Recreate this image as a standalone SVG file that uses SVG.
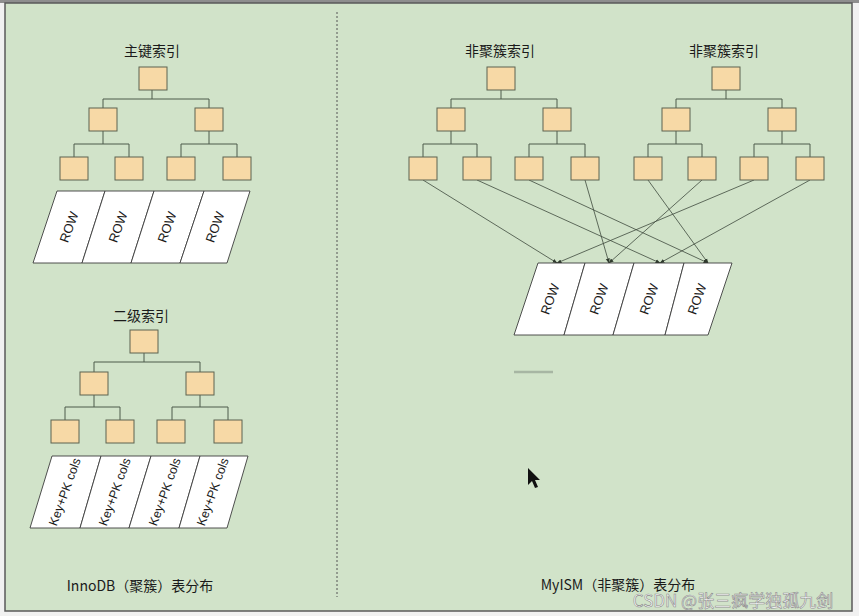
<svg xmlns="http://www.w3.org/2000/svg" width="859" height="616" viewBox="0 0 859 616">
<style>
.bx{fill:#f7d9a6;stroke:#5d6350;stroke-width:1}
.ln{fill:none;stroke:#4d5a4a;stroke-width:1}
.ar{fill:none;stroke:#3f4a3d;stroke-width:0.8}
.cell{fill:#ffffff;stroke:#3c3c3c;stroke-width:0.9}
.t{font-family:"Noto Sans CJK SC","Noto Sans",sans-serif;font-size:14px;fill:#1a1a1a;text-anchor:middle}
.r{font-family:"Liberation Sans","DejaVu Sans",sans-serif;font-size:13px;fill:#1a1a1a;text-anchor:middle;dominant-baseline:central}
.k{font-size:12.5px}
</style>
<defs>
<marker id="ah" viewBox="0 0 10 10" refX="9" refY="5" markerWidth="5" markerHeight="5" orient="auto" markerUnits="userSpaceOnUse">
<path d="M0,1 L10,5 L0,9 z" fill="#2f3a2d"/>
</marker>
</defs>
<rect x="0" y="0" width="859" height="616" fill="#f1f1f1"/>
<rect x="0" y="0" width="859" height="3" fill="#8e8e8e"/>
<rect x="5" y="3" width="847" height="608" fill="#d1e3c9" stroke="#5a5a5a" stroke-width="1.5"/>
<line x1="337" y1="12" x2="337" y2="597" stroke="#555" stroke-width="1" stroke-dasharray="2,2"/>

<g id="connectors">
<path class="ln" d="M152,90V99M103,99H209M103,99V108M209,99V108M103,131V144M74,144H129M74,144V157M129,144V157M209,131V144M181,144H237M181,144V157M237,144V157"/>
<path class="ln" d="M144,353V362M94,362H200M94,362V372M200,362V372M94,395V407M65,407H120M65,407V420M120,407V420M200,395V407M172,407H228M172,407V420M228,407V420"/>
<path class="ln" d="M501,90V99M451,99H557M451,99V108M557,99V108M451,131V144M423,144H477M423,144V157M477,144V157M557,131V144M529,144H585M529,144V157M585,144V157"/>
<path class="ln" d="M726,90V99M676,99H782M676,99V108M782,99V108M676,131V144M648,144H702M648,144V157M702,144V157M782,131V144M754,144H810M754,144V157M810,144V157"/>
<g marker-end="url(#ah)">
<line class="ar" x1="423" y1="180" x2="557" y2="263"/>
<line class="ar" x1="477" y1="180" x2="660" y2="263"/>
<line class="ar" x1="529" y1="180" x2="708" y2="263"/>
<line class="ar" x1="585" y1="180" x2="609" y2="263"/>
<line class="ar" x1="648" y1="180" x2="708" y2="263"/>
<line class="ar" x1="702" y1="180" x2="609" y2="263"/>
<line class="ar" x1="754" y1="180" x2="557" y2="263"/>
<line class="ar" x1="810" y1="180" x2="660" y2="263"/>
</g>
</g>

<g id="pk-index">
<text class="t" x="152" y="56">主键索引</text>
<rect class="bx" x="139" y="67" width="28" height="23"/>
<rect class="bx" x="89" y="108" width="28" height="23"/>
<rect class="bx" x="195" y="108" width="28" height="23"/>
<rect class="bx" x="60" y="157" width="28" height="23"/>
<rect class="bx" x="115" y="157" width="28" height="23"/>
<rect class="bx" x="167" y="157" width="28" height="23"/>
<rect class="bx" x="223" y="157" width="28" height="23"/>
</g>
<g id="pk-rows">
<polygon class="cell" points="57,191 105,191 82,263 33,263"/>
<polygon class="cell" points="105,191 154,191 131,263 82,263"/>
<polygon class="cell" points="154,191 204,191 180,263 131,263"/>
<polygon class="cell" points="204,191 250,191 227,263 180,263"/>
<text class="r" transform="translate(69,227) rotate(-70)">ROW</text>
<text class="r" transform="translate(118,227) rotate(-70)">ROW</text>
<text class="r" transform="translate(167,227) rotate(-70)">ROW</text>
<text class="r" transform="translate(215,227) rotate(-70)">ROW</text>
</g>

<g id="secondary-index">
<text class="t" x="141" y="321">二级索引</text>
<rect class="bx" x="130" y="330" width="28" height="23"/>
<rect class="bx" x="80" y="372" width="28" height="23"/>
<rect class="bx" x="186" y="372" width="28" height="23"/>
<rect class="bx" x="51" y="420" width="28" height="23"/>
<rect class="bx" x="106" y="420" width="28" height="23"/>
<rect class="bx" x="157" y="420" width="28" height="23"/>
<rect class="bx" x="214" y="420" width="28" height="23"/>
</g>
<g id="secondary-rows">
<polygon class="cell" points="52,456 101,456 80,528 30,528"/>
<polygon class="cell" points="101,456 151,456 129,528 80,528"/>
<polygon class="cell" points="151,456 200,456 179,528 129,528"/>
<polygon class="cell" points="200,456 248,456 227,528 179,528"/>
<text class="r k" transform="translate(65,492) rotate(-70)">Key+PK cols</text>
<text class="r k" transform="translate(115,492) rotate(-70)">Key+PK cols</text>
<text class="r k" transform="translate(165,492) rotate(-70)">Key+PK cols</text>
<text class="r k" transform="translate(213,492) rotate(-70)">Key+PK cols</text>
</g>

<g id="nc-index-1">
<text class="t" x="500" y="56">非聚簇索引</text>
<rect class="bx" x="487" y="67" width="28" height="23"/>
<rect class="bx" x="437" y="108" width="28" height="23"/>
<rect class="bx" x="543" y="108" width="28" height="23"/>
<rect class="bx" x="409" y="157" width="28" height="23"/>
<rect class="bx" x="463" y="157" width="28" height="23"/>
<rect class="bx" x="515" y="157" width="28" height="23"/>
<rect class="bx" x="571" y="157" width="28" height="23"/>
</g>
<g id="nc-index-2">
<text class="t" x="724" y="56">非聚簇索引</text>
<rect class="bx" x="712" y="67" width="28" height="23"/>
<rect class="bx" x="662" y="108" width="28" height="23"/>
<rect class="bx" x="768" y="108" width="28" height="23"/>
<rect class="bx" x="634" y="157" width="28" height="23"/>
<rect class="bx" x="688" y="157" width="28" height="23"/>
<rect class="bx" x="740" y="157" width="28" height="23"/>
<rect class="bx" x="796" y="157" width="28" height="23"/>
</g>
<g id="myism-rows">
<polygon class="cell" points="538,263 585,263 564,335 514,335"/>
<polygon class="cell" points="585,263 634,263 613,335 564,335"/>
<polygon class="cell" points="634,263 684,263 665,335 613,335"/>
<polygon class="cell" points="684,263 732,263 708,335 665,335"/>
<text class="r" transform="translate(550,299) rotate(-70)">ROW</text>
<text class="r" transform="translate(599,299) rotate(-70)">ROW</text>
<text class="r" transform="translate(649,299) rotate(-70)">ROW</text>
<text class="r" transform="translate(697,299) rotate(-70)">ROW</text>
</g>

<g id="labels">
<text class="t" x="140" y="591">InnoDB（聚簇）表分布</text>
<text class="t" x="618" y="590">MyISM（非聚簇）表分布</text>
</g>
<line x1="514" y1="372" x2="553" y2="372" stroke="#a7b6a3" stroke-width="2.5"/>
<polygon points="528,468 528,485 532,481 535,488 538,487 535,480 540,480" fill="#111"/>
<text x="733" y="607" style="font-family:'Noto Sans CJK SC','Noto Sans',sans-serif;font-size:17px;text-anchor:middle;fill:#fafafa;stroke:#8c8c8c;stroke-width:0.6">CSDN @张三疯学独孤九剑</text>
</svg>
